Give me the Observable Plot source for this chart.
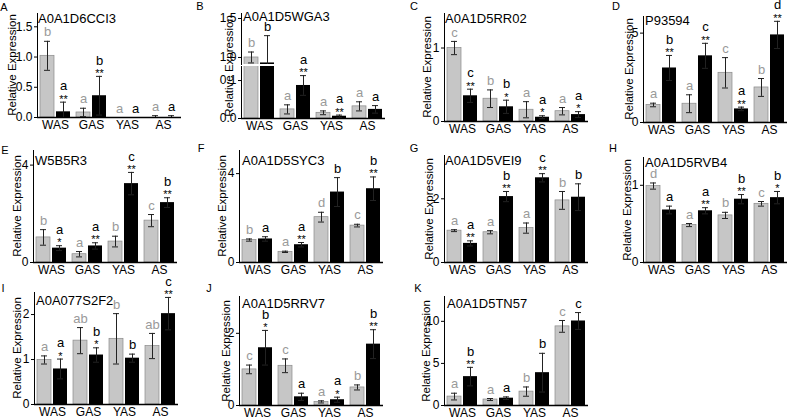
<!DOCTYPE html>
<html><head><meta charset="utf-8">
<script src="https://cdn.jsdelivr.net/npm/d3@7"></script>
<script src="https://cdn.jsdelivr.net/npm/@observablehq/plot@0.6"></script>
<style>
body{margin:0;background:#fff;}
#fig{position:relative;width:792px;height:419px;overflow:hidden;font-family:"Liberation Sans",Arial,sans-serif;color:#000;background:#fff;}
.abs{position:absolute;white-space:nowrap;line-height:1;}
.plet{font-size:11px;transform:translate(-50%,-50%);}
.gtitle{font-size:13px;transform:translateY(-50%);}
.ylab{font-size:11.5px;transform:translate(-50%,-50%) rotate(-90deg);}
.panel{position:absolute;}
</style></head><body><div id="fig"></div><script>
const groups = ["WAS", "GAS", "YAS", "AS"];
const panelLetters = ["A","B","C","D","E","F","G","H","I","J","K"];
const genes = ["A0A1D6CCI3","A0A1D5WGA3","A0A1D5RR02","P93594","W5B5R3","A0A1D5SYC3","A0A1D5VEI9","A0A1D5RVB4","A0A077S2F2","A0A1D5RRV7","A0A1D5TN57"];
const yLabel = "Relative Expression";

const grayMean = [
 [1.02, 0.083, 0, 0],
 [1.0, 0.024, 0.015, 0.032],
 [1.0, 0.31, 0.16, 0.14],
 [0.98, 1.05, 2.78, 1.96],
 [1.03, 0.34, 0.86, 1.72],
 [1.01, 0.48, 2.04, 1.66],
 [1.0, 0.95, 1.08, 1.95],
 [0.99, 0.485, 0.61, 0.76],
 [0.99, 1.42, 1.46, 1.3],
 [1.0, 1.1, 0.1, 0.5],
 [1.06, 0.71, 1.65, 9.4]
];
const grayErr = [
 [0.24, 0.07, 0, 0.03],
 [0.07, 0.012, 0.005, 0.012],
 [0.09, 0.12, 0.11, 0.05],
 [0.1, 0.5, 0.85, 0.5],
 [0.32, 0.11, 0.22, 0.25],
 [0.05, 0.03, 0.22, 0.06],
 [0.03, 0.05, 0.16, 0.28],
 [0.04, 0.02, 0.04, 0.03],
 [0.09, 0.29, 0.56, 0.28],
 [0.12, 0.19, 0.03, 0.07],
 [0.4, 0.12, 0.55, 0.7]
];
const blackMean = [
 [0.094, 0.36, 0, 0],
 [0.93, 0.087, 0.006, 0.024],
 [0.35, 0.2, 0.058, 0.094],
 [3.05, 3.73, 0.76, 4.9],
 [0.59, 0.68, 3.24, 2.46],
 [1.06, 0.8, 3.17, 3.32],
 [0.6, 2.07, 2.66, 2.05],
 [0.68, 0.67, 0.82, 0.84],
 [0.79, 1.1, 1.03, 2.02],
 [1.6, 0.24, 0.16, 1.7],
 [3.43, 0.87, 3.9, 10.04]
];
const blackErr = [
 [0.16, 0.32, 0, 0.03],
 [0.35, 0.026, 0.003, 0.01],
 [0.09, 0.09, 0.02, 0.04],
 [0.7, 0.7, 0.1, 0.76],
 [0.1, 0.13, 0.46, 0.2],
 [0.1, 0.1, 0.65, 0.53],
 [0.08, 0.16, 0.13, 0.42],
 [0.05, 0.04, 0.06, 0.08],
 [0.22, 0.16, 0.09, 0.36],
 [0.48, 0.1, 0.07, 0.4],
 [1.1, 0.15, 2.3, 1.0]
];
const grayLetter = [
 ["b","a","a","a"],
 ["b","a","a","a"],
 ["c","b","a","a"],
 ["a","a","c","b"],
 ["b","a","b","c"],
 ["b","a","d","c"],
 ["a","a","a","b"],
 ["d","a","b","c"],
 ["a","ab","b","ab"],
 ["c","c","a","b"],
 ["a","a","b","c"]
];
const blackLetter = [
 ["a","b","a","a"],
 ["b","a","a","a"],
 ["c","b","a","a"],
 ["b","c","a","d"],
 ["a","a","c","b"],
 ["a","a","b","b"],
 ["a","b","c","b"],
 ["a","a","b","b"],
 ["a","b","b","c"],
 ["b","a","a","b"],
 ["b","a","b","c"]
];
const blackStars = [
 ["**","**","",""],
 ["","**","**",""],
 ["**","*","*","*"],
 ["**","**","**","**"],
 ["*","**","**","**"],
 ["","**","","**"],
 ["**","**","**",""],
 ["","**","**","*"],
 ["*","*","","**"],
 ["*","","*","**"],
 ["**","","",""]
];
const yTicks = [
 [0, 0.5, 1, 1.5],
 [0, 0.1, 1, 1.5],
 [0, 1], [0, 5], [0, 4], [0, 4], [0, 2], [0, 1], [0, 1, 2], [0, 2], [0, 5, 10]
];
const yMax = [1.72, 1.564, 1.47, 5.93, 4.6, 5.04, 3.36, 1.36, 2.49, 3.02, 12.95];
// broken axis of panel B: lower segment ends at 0.137, upper segment starts at 0.91
const breakB = [0.137, 0.91];

// layout (pixels): axis x, baseline y, top y, y-label x, title x/y, panel letter x/y, axis-break y
const layout = [
 {ax:36,  by:117, ty:13,  lx:13,  tx:38,  tyy:18,  px:4,   py:7},
 {ax:240, by:118, ty:13,  lx:230, tx:243, tyy:16,  px:200, py:6, brk:65},
 {ax:443, by:121, ty:13,  lx:428, tx:445, tyy:18,  px:414, py:6},
 {ax:642, by:122, ty:16,  lx:630, tx:645, tyy:20,  px:616, py:6},
 {ax:32,  by:262, ty:150, lx:18,  tx:35,  tyy:160, px:5,   py:150},
 {ax:238, by:262, ty:150, lx:223, tx:242, tyy:160, px:201, py:148},
 {ax:443, by:262, ty:155, lx:430, tx:445, tyy:160, px:414, py:148},
 {ax:642, by:262, ty:157, lx:628, tx:645, tyy:162, px:613, py:148},
 {ax:33,  by:404, ty:292, lx:18,  tx:36,  tyy:300, px:3,   py:288},
 {ax:238, by:405, ty:296, lx:227, tx:242, tyy:303, px:209, py:288},
 {ax:443, by:405, ty:296, lx:427, tx:447, tyy:303, px:418, py:288}
];

const fig = document.getElementById("fig");
function addDiv(cls, text, x, y) {
  const d = document.createElement("div");
  d.className = "abs " + cls;
  d.textContent = text;
  d.style.left = x + "px";
  d.style.top = y + "px";
  fig.appendChild(d);
}

const GRAY = "#c6c6c6", GRAYTXT = "#9a9a9a";
const mL = 30, mR = 4, mT = 6, mB = 20, plotW = 146;
const topOf = d => d.v + d.e;

function segment(rows, {ax, topPx, botPx, domain, ticks, fmt, showFx, baseline, textFilter}) {
  const H = botPx - topPx + mT + mB;
  const svgTop = topPx - mT;
  const tf = textFilter;
  const marks = [
    Plot.barY(rows, {filter: d => d.s === "gray", x: "s", y: "v", fill: GRAY, stroke: "#8a8a8a", strokeWidth: 0.7, clip: true}),
    Plot.barY(rows, {filter: d => d.s === "black", x: "s", y: "v", fill: "#000", clip: true}),
    Plot.ruleX(rows, {x: "s", y1: d => Math.max(0, d.v - d.e), y2: topOf, stroke: "#222", strokeWidth: 1, clip: true}),
    Plot.tickY(rows, {x: "s", y: topOf, stroke: "#222", strokeWidth: 1, insetLeft: 4, insetRight: 4, clip: true}),
    Plot.tickY(rows, {filter: d => d.e > 0 && d.v - d.e > 0, x: "s", y: d => d.v - d.e, stroke: "#222", strokeWidth: 1, insetLeft: 4, insetRight: 4, clip: true}),
    Plot.text(rows, {filter: d => tf(d) && d.s === "gray", x: "s", y: topOf, text: "letter", dy: -9, fill: GRAYTXT, fontSize: 13}),
    Plot.text(rows, {filter: d => tf(d) && d.s === "black" && !d.stars, x: "s", y: topOf, text: "letter", dy: -9, fill: "#000", fontSize: 13}),
    Plot.text(rows, {filter: d => tf(d) && d.s === "black" && d.stars, x: "s", y: topOf, text: "letter", dy: -16, fill: "#000", fontSize: 13}),
    Plot.text(rows, {filter: d => tf(d) && d.s === "black" && d.stars, x: "s", y: topOf, text: "stars", dy: -3, fill: "#000", fontSize: 11})
  ];
  if (baseline) marks.push(Plot.ruleY([0], {stroke: "#000", strokeWidth: 1.3}));
  const chart = Plot.plot({
    width: mL + plotW + mR,
    height: H,
    marginLeft: mL, marginRight: mR, marginTop: mT, marginBottom: mB,
    style: {fontFamily: '"Liberation Sans", Arial, sans-serif', fontSize: "12px", color: "#000", background: "transparent", overflow: "visible"},
    facet: {data: rows, x: "g", marginBottom: mB},
    fx: {domain: groups, padding: 0, axis: showFx ? "bottom" : null, tickSize: 0, tickPadding: 3, label: null},
    x: {domain: ["gray", "black"], axis: null, paddingInner: 0.15, paddingOuter: 0.2},
    y: {domain, ticks, tickFormat: fmt, tickSize: 3, tickPadding: 2, line: true, label: null},
    marks
  });
  const wrap = document.createElement("div");
  wrap.className = "panel";
  wrap.style.left = (ax - mL) + "px";
  wrap.style.top = svgTop + "px";
  wrap.appendChild(chart);
  fig.appendChild(wrap);
}

panelLetters.forEach((L, p) => {
  const lay = layout[p];
  const rows = groups.flatMap((g, i) => [
    {g, s: "gray", v: grayMean[p][i], e: grayErr[p][i], letter: grayLetter[p][i], stars: ""},
    {g, s: "black", v: blackMean[p][i], e: blackErr[p][i], letter: blackLetter[p][i], stars: blackStars[p][i]}
  ]);
  const fmt = p < 2 ? d3.format(".1f") : d3.format("d");
  if (lay.brk) {
    // lower segment
    segment(rows, {ax: lay.ax, topPx: lay.brk + 1, botPx: lay.by, domain: [0, breakB[0]],
      ticks: yTicks[p].filter(t => t <= breakB[0]), fmt, showFx: true, baseline: true,
      textFilter: d => topOf(d) < breakB[0]});
    // upper segment
    segment(rows, {ax: lay.ax, topPx: lay.ty, botPx: lay.brk - 1, domain: [breakB[1], yMax[p]],
      ticks: yTicks[p].filter(t => t >= breakB[1]), fmt, showFx: false, baseline: false,
      textFilter: d => topOf(d) >= breakB[1]});
  } else {
    segment(rows, {ax: lay.ax, topPx: lay.ty, botPx: lay.by, domain: [0, yMax[p]],
      ticks: yTicks[p], fmt, showFx: true, baseline: true, textFilter: () => true});
  }
  addDiv("ylab", yLabel, lay.lx, (lay.ty + lay.by) / 2);
  addDiv("gtitle", genes[p], lay.tx, lay.tyy);
  addDiv("plet", L, lay.px, lay.py);
});
</script></body></html>
